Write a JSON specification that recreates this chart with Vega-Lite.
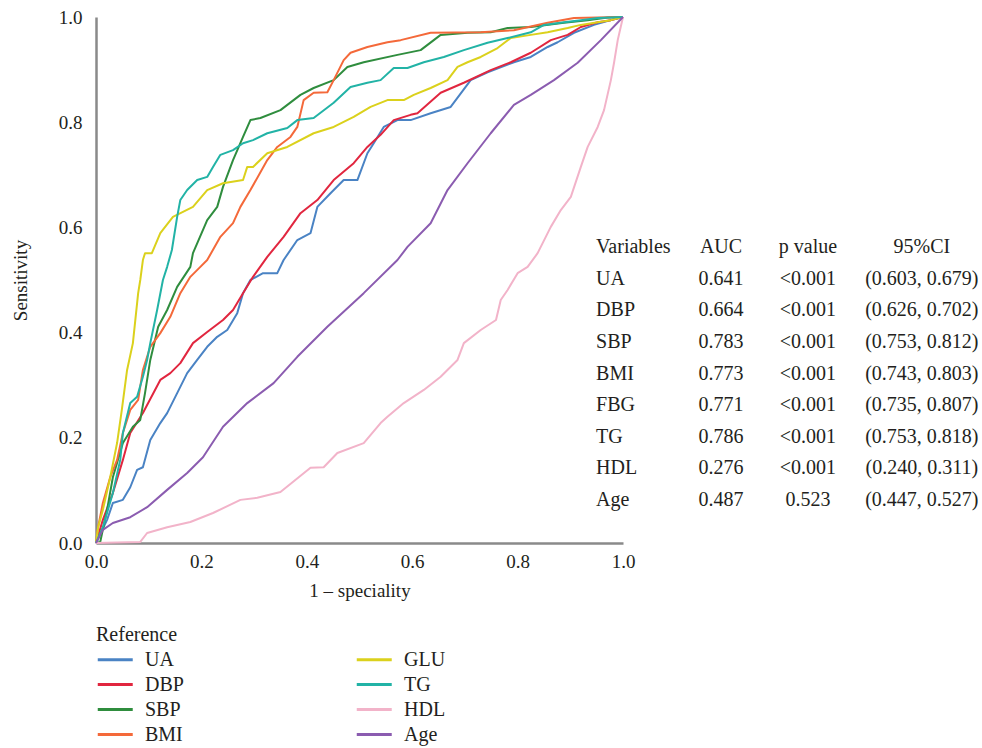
{
"$schema": "https://vega.github.io/schema/vega-lite/v6.json",
"width": 527, "height": 526,
"autosize": {"type": "none"},
"padding": {"left": 96, "top": 17, "right": 359, "bottom": 205},
"background": "white",
"config": {"view": {"stroke": null}, "font": "Liberation Serif", "text": {"font": "Liberation Serif"}},
"datasets": {
"roc": [
{"v":"UA","x":0,"y":0},{"v":"UA","x":0.021,"y":0.044},{"v":"UA","x":0.032,"y":0.076},{"v":"UA","x":0.051,"y":0.082},{"v":"UA","x":0.065,"y":0.106},{"v":"UA","x":0.078,"y":0.139},{"v":"UA","x":0.089,"y":0.144},{"v":"UA","x":0.103,"y":0.196},{"v":"UA","x":0.122,"y":0.228},{"v":"UA","x":0.135,"y":0.247},{"v":"UA","x":0.154,"y":0.285},{"v":"UA","x":0.173,"y":0.323},{"v":"UA","x":0.192,"y":0.348},{"v":"UA","x":0.211,"y":0.373},{"v":"UA","x":0.23,"y":0.392},{"v":"UA","x":0.249,"y":0.405},{"v":"UA","x":0.268,"y":0.437},{"v":"UA","x":0.279,"y":0.475},{"v":"UA","x":0.293,"y":0.5},{"v":"UA","x":0.317,"y":0.513},{"v":"UA","x":0.344,"y":0.513},{"v":"UA","x":0.356,"y":0.538},{"v":"UA","x":0.382,"y":0.576},{"v":"UA","x":0.407,"y":0.589},{"v":"UA","x":0.42,"y":0.639},{"v":"UA","x":0.445,"y":0.665},{"v":"UA","x":0.47,"y":0.69},{"v":"UA","x":0.496,"y":0.69},{"v":"UA","x":0.515,"y":0.741},{"v":"UA","x":0.527,"y":0.76},{"v":"UA","x":0.546,"y":0.791},{"v":"UA","x":0.572,"y":0.804},{"v":"UA","x":0.597,"y":0.804},{"v":"UA","x":0.635,"y":0.817},{"v":"UA","x":0.673,"y":0.829},{"v":"UA","x":0.711,"y":0.88},{"v":"UA","x":0.743,"y":0.895},{"v":"UA","x":0.793,"y":0.914},{"v":"UA","x":0.825,"y":0.924},{"v":"UA","x":0.857,"y":0.943},{"v":"UA","x":0.876,"y":0.952},{"v":"UA","x":0.907,"y":0.97},{"v":"UA","x":0.945,"y":0.985},{"v":"UA","x":0.977,"y":0.994},{"v":"UA","x":1,"y":1},
{"v":"DBP","x":0,"y":0},{"v":"DBP","x":0.013,"y":0.044},{"v":"DBP","x":0.032,"y":0.095},{"v":"DBP","x":0.051,"y":0.158},{"v":"DBP","x":0.065,"y":0.209},{"v":"DBP","x":0.089,"y":0.247},{"v":"DBP","x":0.122,"y":0.31},{"v":"DBP","x":0.141,"y":0.323},{"v":"DBP","x":0.16,"y":0.342},{"v":"DBP","x":0.184,"y":0.38},{"v":"DBP","x":0.211,"y":0.401},{"v":"DBP","x":0.241,"y":0.424},{"v":"DBP","x":0.26,"y":0.443},{"v":"DBP","x":0.279,"y":0.475},{"v":"DBP","x":0.298,"y":0.506},{"v":"DBP","x":0.325,"y":0.544},{"v":"DBP","x":0.356,"y":0.582},{"v":"DBP","x":0.388,"y":0.627},{"v":"DBP","x":0.42,"y":0.652},{"v":"DBP","x":0.451,"y":0.69},{"v":"DBP","x":0.489,"y":0.722},{"v":"DBP","x":0.515,"y":0.753},{"v":"DBP","x":0.54,"y":0.776},{"v":"DBP","x":0.565,"y":0.804},{"v":"DBP","x":0.597,"y":0.814},{"v":"DBP","x":0.61,"y":0.817},{"v":"DBP","x":0.654,"y":0.856},{"v":"DBP","x":0.698,"y":0.875},{"v":"DBP","x":0.749,"y":0.899},{"v":"DBP","x":0.787,"y":0.914},{"v":"DBP","x":0.825,"y":0.932},{"v":"DBP","x":0.863,"y":0.956},{"v":"DBP","x":0.895,"y":0.966},{"v":"DBP","x":0.92,"y":0.981},{"v":"DBP","x":0.952,"y":0.99},{"v":"DBP","x":0.977,"y":0.994},{"v":"DBP","x":1,"y":1},
{"v":"SBP","x":0,"y":0},{"v":"SBP","x":0.008,"y":0.002},{"v":"SBP","x":0.021,"y":0.063},{"v":"SBP","x":0.032,"y":0.125},{"v":"SBP","x":0.051,"y":0.19},{"v":"SBP","x":0.07,"y":0.221},{"v":"SBP","x":0.084,"y":0.234},{"v":"SBP","x":0.093,"y":0.285},{"v":"SBP","x":0.103,"y":0.348},{"v":"SBP","x":0.118,"y":0.411},{"v":"SBP","x":0.135,"y":0.443},{"v":"SBP","x":0.154,"y":0.487},{"v":"SBP","x":0.179,"y":0.525},{"v":"SBP","x":0.184,"y":0.551},{"v":"SBP","x":0.211,"y":0.614},{"v":"SBP","x":0.23,"y":0.639},{"v":"SBP","x":0.241,"y":0.677},{"v":"SBP","x":0.26,"y":0.728},{"v":"SBP","x":0.279,"y":0.772},{"v":"SBP","x":0.293,"y":0.804},{"v":"SBP","x":0.312,"y":0.808},{"v":"SBP","x":0.35,"y":0.823},{"v":"SBP","x":0.388,"y":0.852},{"v":"SBP","x":0.413,"y":0.865},{"v":"SBP","x":0.451,"y":0.88},{"v":"SBP","x":0.477,"y":0.905},{"v":"SBP","x":0.508,"y":0.914},{"v":"SBP","x":0.572,"y":0.928},{"v":"SBP","x":0.616,"y":0.937},{"v":"SBP","x":0.654,"y":0.966},{"v":"SBP","x":0.705,"y":0.97},{"v":"SBP","x":0.749,"y":0.971},{"v":"SBP","x":0.781,"y":0.979},{"v":"SBP","x":0.825,"y":0.981},{"v":"SBP","x":0.888,"y":0.989},{"v":"SBP","x":0.933,"y":0.994},{"v":"SBP","x":0.971,"y":0.999},{"v":"SBP","x":1,"y":1},
{"v":"BMI","x":0,"y":0},{"v":"BMI","x":0.004,"y":0.03},{"v":"BMI","x":0.013,"y":0.076},{"v":"BMI","x":0.027,"y":0.125},{"v":"BMI","x":0.04,"y":0.158},{"v":"BMI","x":0.051,"y":0.209},{"v":"BMI","x":0.065,"y":0.253},{"v":"BMI","x":0.08,"y":0.272},{"v":"BMI","x":0.089,"y":0.329},{"v":"BMI","x":0.103,"y":0.373},{"v":"BMI","x":0.122,"y":0.399},{"v":"BMI","x":0.141,"y":0.43},{"v":"BMI","x":0.16,"y":0.475},{"v":"BMI","x":0.179,"y":0.506},{"v":"BMI","x":0.198,"y":0.525},{"v":"BMI","x":0.211,"y":0.538},{"v":"BMI","x":0.236,"y":0.582},{"v":"BMI","x":0.26,"y":0.608},{"v":"BMI","x":0.274,"y":0.639},{"v":"BMI","x":0.293,"y":0.671},{"v":"BMI","x":0.325,"y":0.728},{"v":"BMI","x":0.344,"y":0.753},{"v":"BMI","x":0.369,"y":0.772},{"v":"BMI","x":0.382,"y":0.791},{"v":"BMI","x":0.394,"y":0.842},{"v":"BMI","x":0.413,"y":0.856},{"v":"BMI","x":0.439,"y":0.857},{"v":"BMI","x":0.451,"y":0.88},{"v":"BMI","x":0.47,"y":0.918},{"v":"BMI","x":0.483,"y":0.932},{"v":"BMI","x":0.515,"y":0.943},{"v":"BMI","x":0.553,"y":0.952},{"v":"BMI","x":0.578,"y":0.956},{"v":"BMI","x":0.635,"y":0.97},{"v":"BMI","x":0.73,"y":0.971},{"v":"BMI","x":0.793,"y":0.975},{"v":"BMI","x":0.857,"y":0.989},{"v":"BMI","x":0.907,"y":0.998},{"v":"BMI","x":0.952,"y":0.999},{"v":"BMI","x":1,"y":1},
{"v":"GLU","x":0,"y":0},{"v":"GLU","x":0.004,"y":0.03},{"v":"GLU","x":0.013,"y":0.063},{"v":"GLU","x":0.027,"y":0.125},{"v":"GLU","x":0.04,"y":0.19},{"v":"GLU","x":0.049,"y":0.253},{"v":"GLU","x":0.059,"y":0.329},{"v":"GLU","x":0.07,"y":0.38},{"v":"GLU","x":0.08,"y":0.475},{"v":"GLU","x":0.084,"y":0.5},{"v":"GLU","x":0.089,"y":0.538},{"v":"GLU","x":0.093,"y":0.551},{"v":"GLU","x":0.106,"y":0.551},{"v":"GLU","x":0.122,"y":0.589},{"v":"GLU","x":0.146,"y":0.62},{"v":"GLU","x":0.184,"y":0.639},{"v":"GLU","x":0.211,"y":0.671},{"v":"GLU","x":0.241,"y":0.684},{"v":"GLU","x":0.279,"y":0.69},{"v":"GLU","x":0.287,"y":0.715},{"v":"GLU","x":0.298,"y":0.715},{"v":"GLU","x":0.325,"y":0.741},{"v":"GLU","x":0.363,"y":0.753},{"v":"GLU","x":0.413,"y":0.779},{"v":"GLU","x":0.451,"y":0.791},{"v":"GLU","x":0.489,"y":0.81},{"v":"GLU","x":0.521,"y":0.829},{"v":"GLU","x":0.553,"y":0.842},{"v":"GLU","x":0.584,"y":0.842},{"v":"GLU","x":0.603,"y":0.852},{"v":"GLU","x":0.635,"y":0.865},{"v":"GLU","x":0.667,"y":0.88},{"v":"GLU","x":0.686,"y":0.905},{"v":"GLU","x":0.705,"y":0.914},{"v":"GLU","x":0.73,"y":0.924},{"v":"GLU","x":0.762,"y":0.941},{"v":"GLU","x":0.787,"y":0.96},{"v":"GLU","x":0.825,"y":0.966},{"v":"GLU","x":0.857,"y":0.971},{"v":"GLU","x":0.895,"y":0.979},{"v":"GLU","x":0.92,"y":0.985},{"v":"GLU","x":0.952,"y":0.99},{"v":"GLU","x":0.977,"y":0.994},{"v":"GLU","x":1,"y":1},
{"v":"TG","x":0,"y":0},{"v":"TG","x":0.013,"y":0.03},{"v":"TG","x":0.032,"y":0.095},{"v":"TG","x":0.046,"y":0.158},{"v":"TG","x":0.051,"y":0.209},{"v":"TG","x":0.065,"y":0.266},{"v":"TG","x":0.078,"y":0.278},{"v":"TG","x":0.089,"y":0.316},{"v":"TG","x":0.097,"y":0.348},{"v":"TG","x":0.103,"y":0.38},{"v":"TG","x":0.116,"y":0.443},{"v":"TG","x":0.127,"y":0.5},{"v":"TG","x":0.135,"y":0.525},{"v":"TG","x":0.144,"y":0.557},{"v":"TG","x":0.154,"y":0.62},{"v":"TG","x":0.16,"y":0.652},{"v":"TG","x":0.173,"y":0.671},{"v":"TG","x":0.192,"y":0.69},{"v":"TG","x":0.211,"y":0.696},{"v":"TG","x":0.222,"y":0.715},{"v":"TG","x":0.236,"y":0.738},{"v":"TG","x":0.26,"y":0.747},{"v":"TG","x":0.279,"y":0.76},{"v":"TG","x":0.298,"y":0.766},{"v":"TG","x":0.325,"y":0.779},{"v":"TG","x":0.363,"y":0.789},{"v":"TG","x":0.382,"y":0.804},{"v":"TG","x":0.413,"y":0.808},{"v":"TG","x":0.451,"y":0.837},{"v":"TG","x":0.483,"y":0.867},{"v":"TG","x":0.515,"y":0.875},{"v":"TG","x":0.54,"y":0.88},{"v":"TG","x":0.565,"y":0.903},{"v":"TG","x":0.591,"y":0.903},{"v":"TG","x":0.622,"y":0.914},{"v":"TG","x":0.66,"y":0.924},{"v":"TG","x":0.698,"y":0.937},{"v":"TG","x":0.743,"y":0.951},{"v":"TG","x":0.781,"y":0.96},{"v":"TG","x":0.825,"y":0.971},{"v":"TG","x":0.85,"y":0.985},{"v":"TG","x":0.888,"y":0.99},{"v":"TG","x":0.92,"y":0.994},{"v":"TG","x":0.952,"y":0.998},{"v":"TG","x":1,"y":1},
{"v":"HDL","x":0,"y":0},{"v":"HDL","x":0.04,"y":0.001},{"v":"HDL","x":0.084,"y":0.002},{"v":"HDL","x":0.097,"y":0.019},{"v":"HDL","x":0.135,"y":0.03},{"v":"HDL","x":0.179,"y":0.04},{"v":"HDL","x":0.222,"y":0.057},{"v":"HDL","x":0.274,"y":0.082},{"v":"HDL","x":0.306,"y":0.086},{"v":"HDL","x":0.35,"y":0.097},{"v":"HDL","x":0.407,"y":0.143},{"v":"HDL","x":0.432,"y":0.144},{"v":"HDL","x":0.458,"y":0.171},{"v":"HDL","x":0.508,"y":0.19},{"v":"HDL","x":0.54,"y":0.228},{"v":"HDL","x":0.553,"y":0.24},{"v":"HDL","x":0.584,"y":0.266},{"v":"HDL","x":0.622,"y":0.291},{"v":"HDL","x":0.654,"y":0.316},{"v":"HDL","x":0.686,"y":0.348},{"v":"HDL","x":0.698,"y":0.38},{"v":"HDL","x":0.73,"y":0.405},{"v":"HDL","x":0.759,"y":0.424},{"v":"HDL","x":0.768,"y":0.462},{"v":"HDL","x":0.781,"y":0.481},{"v":"HDL","x":0.8,"y":0.513},{"v":"HDL","x":0.819,"y":0.525},{"v":"HDL","x":0.838,"y":0.551},{"v":"HDL","x":0.863,"y":0.601},{"v":"HDL","x":0.882,"y":0.633},{"v":"HDL","x":0.901,"y":0.658},{"v":"HDL","x":0.92,"y":0.715},{"v":"HDL","x":0.933,"y":0.753},{"v":"HDL","x":0.952,"y":0.791},{"v":"HDL","x":0.964,"y":0.823},{"v":"HDL","x":0.977,"y":0.88},{"v":"HDL","x":0.983,"y":0.913},{"v":"HDL","x":0.99,"y":0.956},{"v":"HDL","x":1,"y":1},
{"v":"Age","x":0,"y":0},{"v":"Age","x":0.013,"y":0.025},{"v":"Age","x":0.032,"y":0.038},{"v":"Age","x":0.065,"y":0.049},{"v":"Age","x":0.097,"y":0.068},{"v":"Age","x":0.135,"y":0.101},{"v":"Age","x":0.173,"y":0.133},{"v":"Age","x":0.203,"y":0.163},{"v":"Age","x":0.241,"y":0.221},{"v":"Age","x":0.287,"y":0.266},{"v":"Age","x":0.337,"y":0.304},{"v":"Age","x":0.382,"y":0.354},{"v":"Age","x":0.439,"y":0.411},{"v":"Age","x":0.508,"y":0.475},{"v":"Age","x":0.572,"y":0.538},{"v":"Age","x":0.591,"y":0.563},{"v":"Age","x":0.635,"y":0.608},{"v":"Age","x":0.667,"y":0.671},{"v":"Age","x":0.705,"y":0.722},{"v":"Age","x":0.749,"y":0.779},{"v":"Age","x":0.793,"y":0.833},{"v":"Age","x":0.825,"y":0.852},{"v":"Age","x":0.869,"y":0.88},{"v":"Age","x":0.914,"y":0.913},{"v":"Age","x":0.958,"y":0.956},{"v":"Age","x":1,"y":1}
],
"tbl": [
{"Variable":"Variables","AUC":"AUC","p":"p value","CI":"95%CI"},
{"Variable":"UA","AUC":"0.641","p":"<0.001","CI":"(0.603, 0.679)"},
{"Variable":"DBP","AUC":"0.664","p":"<0.001","CI":"(0.626, 0.702)"},
{"Variable":"SBP","AUC":"0.783","p":"<0.001","CI":"(0.753, 0.812)"},
{"Variable":"BMI","AUC":"0.773","p":"<0.001","CI":"(0.743, 0.803)"},
{"Variable":"FBG","AUC":"0.771","p":"<0.001","CI":"(0.735, 0.807)"},
{"Variable":"TG","AUC":"0.786","p":"<0.001","CI":"(0.753, 0.818)"},
{"Variable":"HDL","AUC":"0.276","p":"<0.001","CI":"(0.240, 0.311)"},
{"Variable":"Age","AUC":"0.487","p":"0.523","CI":"(0.447, 0.527)"}
]
},
"layer": [
{
"data": {"name": "roc"},
"mark": {"type": "line", "strokeWidth": 2, "strokeJoin": "round"},
"encoding": {
"x": {"field": "x", "type": "quantitative", "scale": {"domain": [0, 1], "nice": false, "zero": false},
"axis": {"values": [0, 0.2, 0.4, 0.6, 0.8, 1], "format": ".1f", "ticks": false, "grid": false, "labelFlush": false, "labelOverlap": false,
"domainColor": "#8a8a8a", "domainWidth": 2.5, "labelFont": "Liberation Serif", "labelFontSize": 19, "labelColor": "#231f20", "labelPadding": 9,
"title": "1 – speciality", "titleFont": "Liberation Serif", "titleFontSize": 19, "titleFontWeight": "normal", "titleColor": "#231f20", "titlePadding": 10}},
"y": {"field": "y", "type": "quantitative", "scale": {"domain": [0, 1], "nice": false, "zero": false},
"axis": {"values": [0, 0.2, 0.4, 0.6, 0.8, 1], "format": ".1f", "ticks": false, "grid": false, "labelFlush": false, "labelOverlap": false,
"domainColor": "#8a8a8a", "domainWidth": 2.5, "labelFont": "Liberation Serif", "labelFontSize": 19, "labelColor": "#231f20", "labelPadding": 14,
"title": "Sensitivity", "titleFont": "Liberation Serif", "titleFontSize": 19, "titleFontWeight": "normal", "titleColor": "#231f20", "titlePadding": 28}},
"color": {"field": "v", "type": "nominal",
"scale": {"domain": ["UA", "DBP", "SBP", "BMI", "GLU", "TG", "HDL", "Age"],
"range": ["#4a83c4", "#e1263f", "#2f8d3e", "#f4693a", "#dbd11c", "#22b3a6", "#f2b3c9", "#8b5cb0"]},
"legend": {"title": "Reference", "orient": "bottom", "direction": "vertical", "columns": 2, "columnPadding": 166, "rowPadding": 4,
"symbolType": "M-1,0H3", "symbolSize": 306, "symbolStrokeWidth": 3, "labelOffset": 28,
"labelFont": "Liberation Serif", "labelFontSize": 20, "labelColor": "#231f20", "titleFont": "Liberation Serif", "titleFontSize": 20, "titleFontWeight": "normal", "titleColor": "#231f20",
"titlePadding": 4, "offset": 25}}
}
},
{
"data": {"name": "tbl"},
"transform": [{"window": [{"op": "row_number", "as": "row"}]}],
"mark": {"type": "text", "align": "left", "baseline": "middle", "font": "Liberation Serif", "fontSize": 20, "color": "#231f20"},
"encoding": {
"x": {"datum": 0.949, "type": "quantitative", "scale": {"domain": [0, 1], "nice": false, "zero": false}, "axis": null},
"y": {"field": "row", "type": "quantitative", "scale": {"domain": [-6.273, 10.359], "reverse": true, "nice": false, "zero": false}, "axis": null},
"text": {"field": "Variable"}
}
},
{
"data": {"name": "tbl"},
"transform": [{"window": [{"op": "row_number", "as": "row"}]}],
"mark": {"type": "text", "align": "center", "baseline": "middle", "font": "Liberation Serif", "fontSize": 20, "color": "#231f20"},
"encoding": {
"x": {"datum": 1.186, "type": "quantitative", "scale": {"domain": [0, 1], "nice": false, "zero": false}, "axis": null},
"y": {"field": "row", "type": "quantitative", "scale": {"domain": [-6.273, 10.359], "reverse": true, "nice": false, "zero": false}, "axis": null},
"text": {"field": "AUC"}
}
},
{
"data": {"name": "tbl"},
"transform": [{"window": [{"op": "row_number", "as": "row"}]}],
"mark": {"type": "text", "align": "center", "baseline": "middle", "font": "Liberation Serif", "fontSize": 20, "color": "#231f20"},
"encoding": {
"x": {"datum": 1.351, "type": "quantitative", "scale": {"domain": [0, 1], "nice": false, "zero": false}, "axis": null},
"y": {"field": "row", "type": "quantitative", "scale": {"domain": [-6.273, 10.359], "reverse": true, "nice": false, "zero": false}, "axis": null},
"text": {"field": "p"}
}
},
{
"data": {"name": "tbl"},
"transform": [{"window": [{"op": "row_number", "as": "row"}]}],
"mark": {"type": "text", "align": "center", "baseline": "middle", "font": "Liberation Serif", "fontSize": 20, "color": "#231f20"},
"encoding": {
"x": {"datum": 1.567, "type": "quantitative", "scale": {"domain": [0, 1], "nice": false, "zero": false}, "axis": null},
"y": {"field": "row", "type": "quantitative", "scale": {"domain": [-6.273, 10.359], "reverse": true, "nice": false, "zero": false}, "axis": null},
"text": {"field": "CI"}
}
}
],
"resolve": {"scale": {"x": "independent", "y": "independent"}}
}
